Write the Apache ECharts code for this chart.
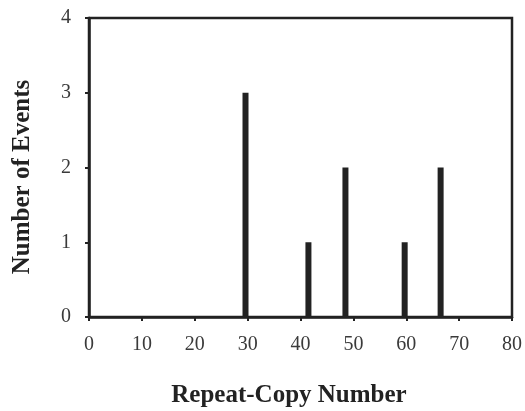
<!DOCTYPE html>
<html>
<head>
<meta charset="utf-8">
<script src="https://cdn.jsdelivr.net/npm/echarts@6/dist/echarts.min.js"></script>
<style>
  html, body { margin: 0; padding: 0; background: #fff; }
  #chart { width: 525px; height: 411px; }
</style>
</head>
<body>
<div id="chart"></div>
<script>
// Repeat-copy numbers observed and how many events had each
const copyNumbers = [29.6, 41.5, 48.5, 59.7, 66.5];
const eventCounts = [3, 1, 2, 1, 2];
const xTicks = [0, 10, 20, 30, 40, 50, 60, 70, 80];
const yTicks = [0, 1, 2, 3, 4];
const xTitle = 'Repeat-Copy Number';
const yTitle = 'Number of Events';

const ink = '#222';
const serif = '"Liberation Serif", "DejaVu Serif", serif';

const chart = echarts.init(document.getElementById('chart'));
chart.setOption({
  animation: false,
  backgroundColor: '#fff',
  grid: {
    left: 89, right: 10, top: 18, bottom: 94,
    show: true, borderColor: ink, borderWidth: 2.5, backgroundColor: 'transparent'
  },
  xAxis: {
    type: 'value',
    min: xTicks[0], max: xTicks[xTicks.length - 1], interval: 10,
    axisLine: { show: true, lineStyle: { color: ink, width: 2.5 } },
    axisTick: { show: true, length: 4, lineStyle: { color: ink, width: 2 } },
    splitLine: { show: false },
    axisLabel: { color: '#3a3a3a', fontFamily: serif, fontSize: 20, margin: 18 }
  },
  yAxis: {
    type: 'value',
    min: yTicks[0], max: yTicks[yTicks.length - 1], interval: 1,
    axisLine: { show: true, lineStyle: { color: ink, width: 2.5 } },
    axisTick: { show: true, length: 4, lineStyle: { color: ink, width: 2 } },
    splitLine: { show: false },
    axisLabel: { color: '#3a3a3a', fontFamily: serif, fontSize: 20, margin: 18 }
  },
  graphic: [
    {
      type: 'text', x: 289, y: 396,
      style: { text: xTitle, fill: ink, font: 'bold 25px ' + serif, align: 'center', verticalAlign: 'middle' }
    },
    {
      type: 'text', x: 23, y: 177, rotation: Math.PI / 2,
      style: { text: yTitle, fill: ink, font: 'bold 25px ' + serif, align: 'center', verticalAlign: 'middle' }
    }
  ],
  series: [{
    type: 'bar',
    data: copyNumbers.map((x, i) => [x, eventCounts[i]]),
    barWidth: 6,
    itemStyle: { color: ink }
  }]
});
</script>
</body>
</html>
